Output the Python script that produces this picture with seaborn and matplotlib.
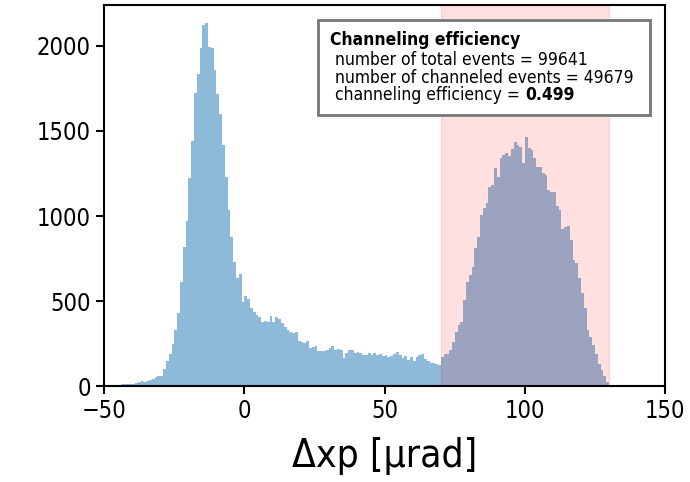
import numpy as np
import pandas as pd
import matplotlib
matplotlib.use("Agg")
import matplotlib.pyplot as plt
import seaborn as sns
from matplotlib.patches import Rectangle

# ---- data (1 µrad bins, left edges -50 .. 129) ----
bin_left = list(range(-50, 130))
counts = [
    3, 4, 5, 6, 7, 8, 10, 11, 12, 13,              # -50 .. -41
    15, 18, 22, 28, 24, 30, 38, 40, 55, 58,        # -40 .. -31
    60, 100, 145, 190, 248, 330, 431, 613, 815, 972,   # -30 .. -21
    1221, 1440, 1725, 1835, 1988, 2125, 2135, 1995, 1990, 1860,  # -20 .. -11
    1720, 1600, 1420, 1230, 1035, 878, 731, 633, 659, 496,  # -10 .. -1
    529, 510, 457, 437, 418, 404, 378, 384, 378, 412,  # 0 .. 9
    378, 404, 392, 368, 345, 330, 319, 314, 319, 265,  # 10 .. 19
    261, 255, 265, 222, 231, 235, 208, 208, 208, 212,  # 20 .. 29
    222, 237, 212, 218, 212, 163, 196, 212, 212, 196,  # 30 .. 39
    202, 192, 180, 185, 192, 182, 192, 185, 188, 176,  # 40 .. 49
    182, 172, 176, 188, 202, 182, 163, 176, 153, 172,  # 50 .. 59
    149, 172, 182, 190, 157, 148, 137, 135, 128, 125,  # 60 .. 69
    170, 188, 188, 212, 261, 319, 359, 378, 506, 613,  # 70 .. 79
    653, 702, 810, 878, 1005, 1045, 1078, 1168, 1180, 1280,  # 80 .. 89
    1231, 1339, 1358, 1372, 1350, 1392, 1437, 1417, 1403, 1309,  # 90 .. 99
    1462, 1398, 1390, 1339, 1290, 1290, 1251, 1241, 1152, 1143,  # 100 .. 109
    1143, 1058, 1035, 921, 933, 941, 858, 741, 725, 633,  # 110 .. 119
    545, 457, 329, 290, 240, 190, 130, 95, 60, 25,  # 120 .. 129
]
span_range = [70, 130]
xticks = [-50, 0, 50, 100, 150]
yticks = [0, 500, 1000, 1500, 2000]
box_title = "Channeling efficiency"
box_lines = [" number of total events = 99641",
             " number of channeled events = 49679",
             " channeling efficiency = "]
box_bold = "0.499"
xlabel = "Δxp [μrad]"

df = pd.DataFrame({"x": np.array(bin_left) + 0.5, "w": counts})
edges = bin_left + [bin_left[-1] + 1]

sns.set_style("ticks")
plt.rcParams["font.family"] = ["DejaVu Sans"]
plt.rcParams["font.stretch"] = "condensed"
for k in ["text.color", "axes.labelcolor", "xtick.color", "ytick.color",
          "axes.edgecolor"]:
    plt.rcParams[k] = "black"

fig = plt.figure(figsize=(6.9, 4.82), dpi=100)
ax = fig.add_axes([0.151, 0.199, 0.813, 0.791])

sns.histplot(data=df, x="x", weights="w", bins=edges, element="step",
             color="#1f77b4", alpha=0.5, linewidth=0, ax=ax)
ax.axvspan(span_range[0], span_range[1], color="red", alpha=0.12)

ax.set_xlim(-50, 150)
ax.set_xticks(xticks)
ax.set_yticks(yticks)
ax.set_ylabel("")
ax.set_xlabel(xlabel, fontsize=28, labelpad=10)
ax.tick_params(axis="both", labelsize=17, width=1.5, length=6,
               color="black", labelcolor="black")
for s in ax.spines.values():
    s.set_visible(True)
    s.set_linewidth(1.5)
    s.set_color("black")

# info box
ax.add_patch(Rectangle((0.381, 0.711), 0.592, 0.25, transform=ax.transAxes,
                       facecolor="white", edgecolor="#777777", linewidth=2,
                       zorder=5))
fs = 12.5
ax.text(0.403, 0.895, box_title, transform=ax.transAxes, fontsize=fs,
        fontweight="bold", va="baseline", ha="left", zorder=6)
ys = [0.843, 0.795, 0.751]
texts = []
for y, line in zip(ys, box_lines):
    t = ax.text(0.403, y, line, transform=ax.transAxes, fontsize=fs,
                va="baseline", ha="left", zorder=6)
    texts.append(t)
fig.canvas.draw()
r = fig.canvas.get_renderer()
bb = texts[-1].get_window_extent(r)
xa = ax.transAxes.inverted().transform((bb.x1, bb.y0))[0]
ax.text(xa, ys[-1], box_bold, transform=ax.transAxes, fontsize=fs,
        fontweight="bold", va="baseline", ha="left", zorder=6)

fig.savefig("out.png", dpi=100)
